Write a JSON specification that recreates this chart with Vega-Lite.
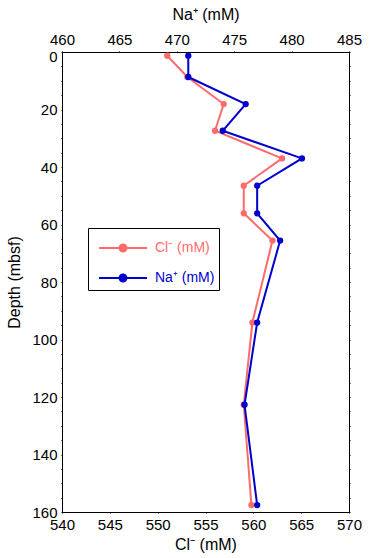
{
  "$schema": "https://vega.github.io/schema/vega-lite/v6.json",
  "width": 287,
  "height": 460,
  "autosize": {"type": "none"},
  "padding": {"left": 62, "top": 52, "right": 23, "bottom": 46},
  "config": {
    "font": "Liberation Sans",
    "view": {"stroke": null},
    "axis": {
      "grid": false,
      "ticks": true,
      "tickSize": 1,
      "domainColor": "black",
      "domainWidth": 1,
      "tickColor": "black",
      "tickWidth": 1,
      "labelColor": "black",
      "titleColor": "black",
      "labelFont": "Liberation Sans",
      "titleFont": "Liberation Sans",
      "labelFontSize": 15,
      "titleFontSize": 16,
      "titleFontWeight": "normal",
      "labelFlush": false,
      "labelOverlap": false,
      "zindex": 1
    }
  },
  "datasets": {
    "cl": [
      {"depth": 1.3, "cl": 551.0},
      {"depth": 8.7, "cl": 553.1},
      {"depth": 18.1, "cl": 556.9},
      {"depth": 27.4, "cl": 556.0},
      {"depth": 37.0, "cl": 563.0},
      {"depth": 46.5, "cl": 559.0},
      {"depth": 56.1, "cl": 559.0},
      {"depth": 65.6, "cl": 562.0},
      {"depth": 94.1, "cl": 559.9},
      {"depth": 122.7, "cl": 559.0},
      {"depth": 157.6, "cl": 559.8}
    ],
    "na": [
      {"depth": 1.3, "na": 471.0},
      {"depth": 8.7, "na": 471.0},
      {"depth": 18.1, "na": 476.0},
      {"depth": 27.4, "na": 474.0},
      {"depth": 37.0, "na": 480.9},
      {"depth": 46.5, "na": 477.0},
      {"depth": 56.1, "na": 477.0},
      {"depth": 65.6, "na": 479.0},
      {"depth": 94.1, "na": 477.0},
      {"depth": 122.7, "na": 475.9},
      {"depth": 157.6, "na": 477.0}
    ]
  },
  "layer": [
    {
      "data": {"name": "cl"},
      "encoding": {
        "x": {
          "field": "cl", "type": "quantitative",
          "scale": {"domain": [540, 570], "nice": false, "zero": false},
          "axis": {
            "orient": "bottom",
            "values": [540, 545, 550, 555, 560, 565, 570],
            "labelPadding": 4,
            "title": "Cl⁻ (mM)",
            "titlePadding": 4,
            "encode": {"ticks": {"update": {"y2": {"value": -8}}}}
          }
        },
        "y": {
          "field": "depth", "type": "quantitative",
          "scale": {"domain": [0, 160], "reverse": true, "nice": false, "zero": false},
          "axis": {
            "orient": "left",
            "values": [0, 5, 10, 15, 20, 25, 30, 35, 40, 45, 50, 55, 60, 65, 70, 75, 80, 85, 90, 95, 100, 105, 110, 115, 120, 125, 130, 135, 140, 145, 150, 155, 160],
            "labelExpr": "datum.value % 20 === 0 ? datum.label : ''",
            "labelPadding": 4,
            "labelOffset": {"condition": {"test": "datum.value === 0", "value": 4}, "value": 0},
            "title": "Depth (mbsf)",
            "titlePadding": 9,
            "encode": {"ticks": {"update": {"x2": [{"test": "datum.value % 20 === 0", "value": 8}, {"value": 5}]}}}
          }
        },
        "order": {"field": "depth", "type": "quantitative"}
      },
      "layer": [
        {
          "mark": {"type": "line", "strokeWidth": 2, "point": {"filled": true, "size": 40}},
          "encoding": {
            "color": {
              "datum": "Cl⁻ (mM)",
              "type": "nominal",
              "scale": {"domain": ["Cl⁻ (mM)", "Na⁺ (mM)"], "range": ["#ff6b6b", "#0000cc"]},
              "legend": {
                "orient": "none",
                "legendX": 26,
                "legendY": 176,
                "title": null,
                "symbolType": "M-0.6,0H2.6M0.767,0A0.233,0.233 0 1,0 1.233,0A0.233,0.233 0 1,0 0.767,0Z",
                "symbolSize": 900,
                "symbolStrokeWidth": 2,
                "labelOffset": 31,
                "labelFontSize": 14,
                "labelFont": "Liberation Sans",
                "padding": 4,
                "rowPadding": 6,
                "strokeColor": "black",
                "fillColor": "white",
                "zindex": 2,
                "encode": {
                  "labels": {"update": {"fill": {"scale": "color", "field": "value"}}},
                  "symbols": {"update": {"fill": {"scale": "color", "field": "value"}, "stroke": {"scale": "color", "field": "value"}, "opacity": {"value": 1}}}
                }
              }
            }
          }
        },
        {
          "mark": {"type": "point", "opacity": 0},
          "encoding": {
            "shape": {
              "datum": "Cl⁻ (mM)",
              "type": "nominal",
              "scale": {
                "domain": ["Cl⁻ (mM)", "Na⁺ (mM)"],
                "range": [
                  "M-0.6,0H2.6M0.767,0A0.233,0.233 0 1,0 1.233,0A0.233,0.233 0 1,0 0.767,0Z",
                  "M-0.6,0H2.6M0.767,0A0.233,0.233 0 1,0 1.233,0A0.233,0.233 0 1,0 0.767,0Z"
                ]
              },
              "legend": {
                "orient": "none",
                "legendX": 29,
                "legendY": 179,
                "title": null,
                "symbolSize": 900,
                "labelOffset": 31,
                "labelFontSize": 14,
                "labelFont": "Liberation Sans",
                "padding": 4,
                "rowPadding": 6,
                "strokeColor": "black",
                "fillColor": "black",
                "labelColor": "black",
                "symbolFillColor": "black",
                "symbolStrokeColor": "black",
                "symbolOpacity": 1,
                "zindex": 1
              }
            }
          }
        }
      ]
    },
    {
      "data": {"name": "na"},
      "mark": {"type": "line", "strokeWidth": 2, "point": {"filled": true, "size": 40}},
      "encoding": {
        "x": {
          "field": "na", "type": "quantitative",
          "scale": {"domain": [460, 485], "nice": false, "zero": false},
          "axis": {
            "orient": "top",
            "values": [460, 465, 470, 475, 480, 485],
            "labelPadding": 3.5,
            "title": "Na⁺ (mM)",
            "titlePadding": 10,
            "encode": {"ticks": {"update": {"y2": {"value": 8}}}}
          }
        },
        "y": {
          "field": "depth", "type": "quantitative",
          "scale": {"domain": [0, 160], "reverse": true, "nice": false, "zero": false},
          "axis": {
            "orient": "right",
            "values": [0, 5, 10, 15, 20, 25, 30, 35, 40, 45, 50, 55, 60, 65, 70, 75, 80, 85, 90, 95, 100, 105, 110, 115, 120, 125, 130, 135, 140, 145, 150, 155, 160],
            "labels": false,
            "title": null,
            "encode": {"ticks": {"update": {"x2": [{"test": "datum.value % 20 === 0", "value": -8}, {"value": -5}]}}}
          }
        },
        "order": {"field": "depth", "type": "quantitative"},
        "color": {"datum": "Na⁺ (mM)", "type": "nominal"}
      }
    }
  ],
  "resolve": {"scale": {"x": "independent", "y": "independent"}}
}
